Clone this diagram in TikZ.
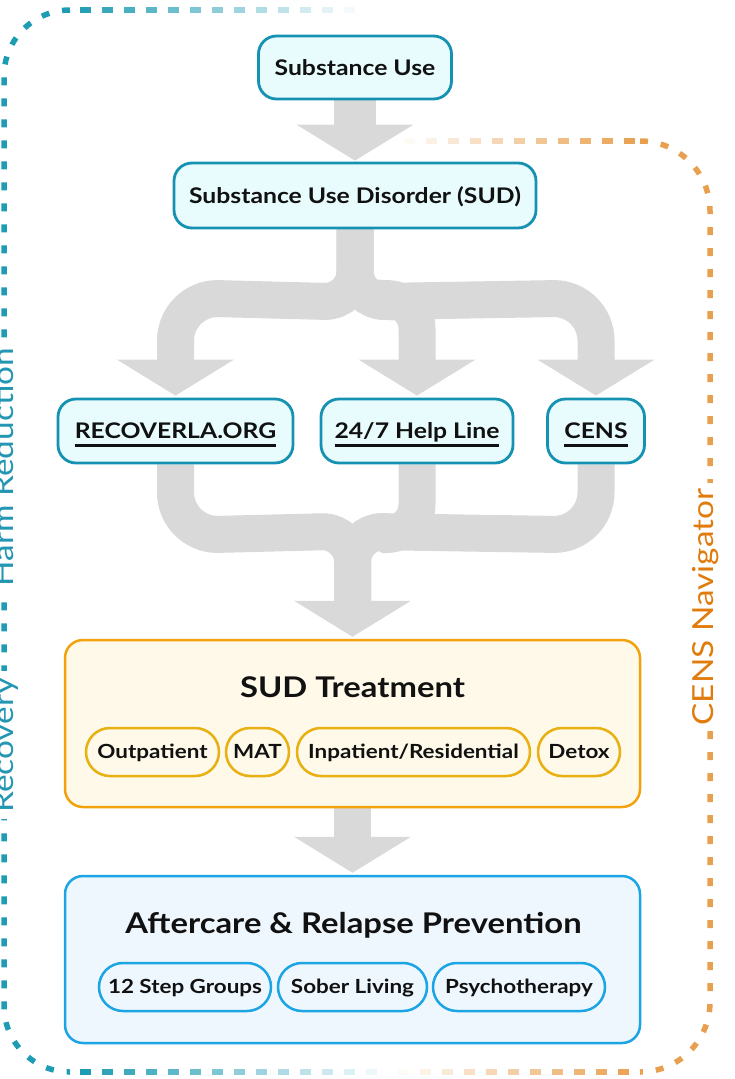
\documentclass[tikz,border=0pt]{standalone}
\usepackage{fontspec}
\setmainfont{Lato}[FakeStretch=1.15]
\usetikzlibrary{calc,backgrounds}
\definecolor{nodeb}{HTML}{1592B2}
\definecolor{nodef}{HTML}{E8FBFD}
\definecolor{flowg}{HTML}{D9D9D9}
\definecolor{treatb}{HTML}{F2A20C}
\definecolor{treatf}{HTML}{FEF9E8}
\definecolor{pillb}{HTML}{E9B012}
\definecolor{aftb}{HTML}{1CA5E4}
\definecolor{aftf}{HTML}{EFF7FE}
\definecolor{tealb}{HTML}{1E9CB4}
\definecolor{tealt}{HTML}{2296B2}
\definecolor{orab}{HTML}{E8A04F}
\definecolor{orat}{HTML}{E07B0C}
\definecolor{txt}{HTML}{111111}
\newcommand\ulx[1]{\setbox0=\hbox{#1}\rlap{\rule[-8pt]{\wd0}{2.5pt}}\box0}
\newcommand\headat[1]{\fill[flowg] ($(#1)+(-58.5,-36)$) -- (#1) -- ($(#1)+(58.5,-36)$) -- cycle;}
\begin{document}
\begin{tikzpicture}[x=1pt,y=-1pt,
  entry/.style={draw=nodeb, fill=nodef, line width=2.8pt, rounded corners=18pt, inner sep=0pt,
    text=txt, text height=15pt, text depth=0pt, font=\fontsize{21.5}{26}\selectfont\bfseries},
  big/.style={line width=2.5pt, rounded corners=18pt, inner sep=0pt},
  title/.style={inner sep=0pt, anchor=base, text=txt, font=\fontsize{28.5}{34}\selectfont\bfseries},
  pill/.style={line width=2.5pt, rounded corners=24pt, minimum height=48pt, inner sep=0pt,
    text=txt, text height=16pt, text depth=4pt, font=\fontsize{19.5}{24}\selectfont\bfseries},
  tpill/.style={pill, draw=pillb, fill=treatf},
  apill/.style={pill, draw=aftb, fill=aftf},
  flow/.style={draw=flowg, line width=37pt},
  tealdash/.style={draw=tealb, line width=5.5pt, dash pattern=on 8pt off 13pt},
  oradash/.style={draw=orab, line width=5.5pt, dash pattern=on 8pt off 13pt},
  sidelab/.style={fill=white, inner sep=6pt, anchor=base, rotate=90, font=\fontsize{29}{34}\selectfont}
]
\useasboundingbox (0,0) rectangle (735,1079);
% teal border (Recovery / Harm Reduction)
\draw[tealdash] (70,10) arc[start angle=270,end angle=180,radius=66] -- (4,1006) arc[start angle=180,end angle=90,radius=66];
\foreach \xx in {80,102,...,344} {
  \pgfmathtruncatemacro\pp{max(0,min(100,(360-\xx)/2.9))}
  \draw[line width=5.5pt, draw=tealb!\pp!white] (\xx,10) -- ++(10.5,0);
}
\foreach \xx in {80,102,...,366} {
  \pgfmathtruncatemacro\pp{max(0,min(100,(392-\xx)/3.1))}
  \draw[line width=5.5pt, draw=tealb!\pp!white] (\xx,1072) -- ++(10.5,0);
}
% orange border (CENS Navigator)
\draw[oradash] (640,141) arc[start angle=270,end angle=360,radius=70] -- (710,1002) arc[start angle=0,end angle=90,radius=70];
\foreach \xx in {404,426,...,624} {
  \pgfmathtruncatemacro\pp{max(0,min(100,(\xx-390)/2.4))}
  \draw[line width=5.5pt, draw=orab!\pp!white] (\xx,141) -- ++(10.5,0);
}
\foreach \xx in {398,420,...,628} {
  \pgfmathtruncatemacro\pp{max(0,min(100,(\xx-385)/2.45))}
  \draw[line width=5.5pt, draw=orab!\pp!white] (\xx,1072) -- ++(10.5,0);
}
\node[sidelab, text=tealt] (harm) at (13,467) {Harm Reduction};
\node[sidelab, text=tealt] (recov) at (13,745) {Recovery};
\node[sidelab, text=orat] (nav) at (713,607) {CENS Navigator};

% entry nodes
\node[entry, minimum width=193pt, minimum height=63pt] (su) at (355,67.5) {Substance Use};
\node[entry, minimum width=362pt, minimum height=65pt] (sud) at (355,195.5) {Substance Use Disorder (SUD)};
\node[entry, minimum width=235pt, minimum height=64pt] (rec) at (175.5,431) {\ulx{RECOVERLA.ORG}};
\node[entry, minimum width=192pt, minimum height=64pt] (help) at (417,431) {\ulx{24/7 Help Line}};
\node[entry, minimum width=97pt, minimum height=64pt] (cens) at (596,431) {\ulx{CENS}};

% treatment
\node[big, draw=treatb, fill=treatf, minimum width=575pt, minimum height=167pt] (treat) at (352.5,723.5) {};
\node[title] (tt) at (352.5,697) {SUD Treatment};
\node[tpill, minimum width=133pt] (op) at (152.5,752) {Outpatient};
\node[tpill, minimum width=63pt] (mat) at (257.5,752) {MAT};
\node[tpill, minimum width=233pt] (inp) at (413.5,752) {Inpatient/Residential};
\node[tpill, minimum width=82pt] (detox) at (579,752) {Detox};

% aftercare
\node[big, draw=aftb, fill=aftf, minimum width=575pt, minimum height=167pt] (aft) at (352.5,959.5) {};
\node[title] (at) at (353.5,933) {Aftercare \& Relapse Prevention};
\node[apill, minimum width=172pt] (twelve) at (185,987) {12 Step Groups};
\node[apill, minimum width=149pt] (sober) at (352.5,987) {Sober Living};
\node[apill, minimum width=172pt] (psy) at (519,987) {Psychotherapy};

% block arrows
\begin{scope}[on background layer]
\draw[flow, line width=42pt] (su.south) -- ($(sud.north)+(0,-37)$);
\coordinate (t0) at ($(sud.north)+(0,-1)$);
\headat{t0}
% split
\draw[flow] (sud.south) -- ++(0,42) arc[start angle=0,end angle=90,radius=30] -- ($(rec.north)+(42,-99)$) arc[start angle=270,end angle=180,radius=42] -- ($(rec.north)+(0,-37)$);
\draw[flow] (sud.south) -- ++(0,42) arc[start angle=180,end angle=90,radius=30] -- ($(help.north)+(-30,-99)$) arc[start angle=270,end angle=360,radius=30] -- ($(help.north)+(0,-37)$);
\draw[flow] (sud.south) -- ++(0,42) arc[start angle=180,end angle=90,radius=30] -- ($(cens.north)+(-42,-99)$) arc[start angle=270,end angle=360,radius=42] -- ($(cens.north)+(0,-37)$);
\coordinate (t1) at ($(rec.north)+(0,-2)$);
\coordinate (t2) at ($(help.north)+(0,-2)$);
\coordinate (t3) at ($(cens.north)+(0,-2)$);
\headat{t1}
\headat{t2}
\headat{t3}
% merge
\draw[flow] (rec.south) -- ++(0,28) arc[start angle=180,end angle=90,radius=42] -- ($(treat.north)+(-30,-107)$) arc[start angle=270,end angle=360,radius=30] -- ($(treat.north)+(0,-37)$);
\draw[flow] (help.south) -- ++(0,40) arc[start angle=0,end angle=90,radius=30] -- ($(treat.north)+(30,-107)$) arc[start angle=270,end angle=180,radius=30] -- ($(treat.north)+(0,-37)$);
\draw[flow] (cens.south) -- ++(0,28) arc[start angle=0,end angle=90,radius=42] -- ($(treat.north)+(30,-107)$) arc[start angle=270,end angle=180,radius=30] -- ($(treat.north)+(0,-37)$);
\coordinate (t4) at ($(treat.north)+(0,-2)$);
\headat{t4}
\draw[flow] (treat.south) -- ($(aft.north)+(0,-37)$);
\coordinate (t5) at ($(aft.north)+(0,-2)$);
\headat{t5}
\end{scope}
\end{tikzpicture}
\end{document}
